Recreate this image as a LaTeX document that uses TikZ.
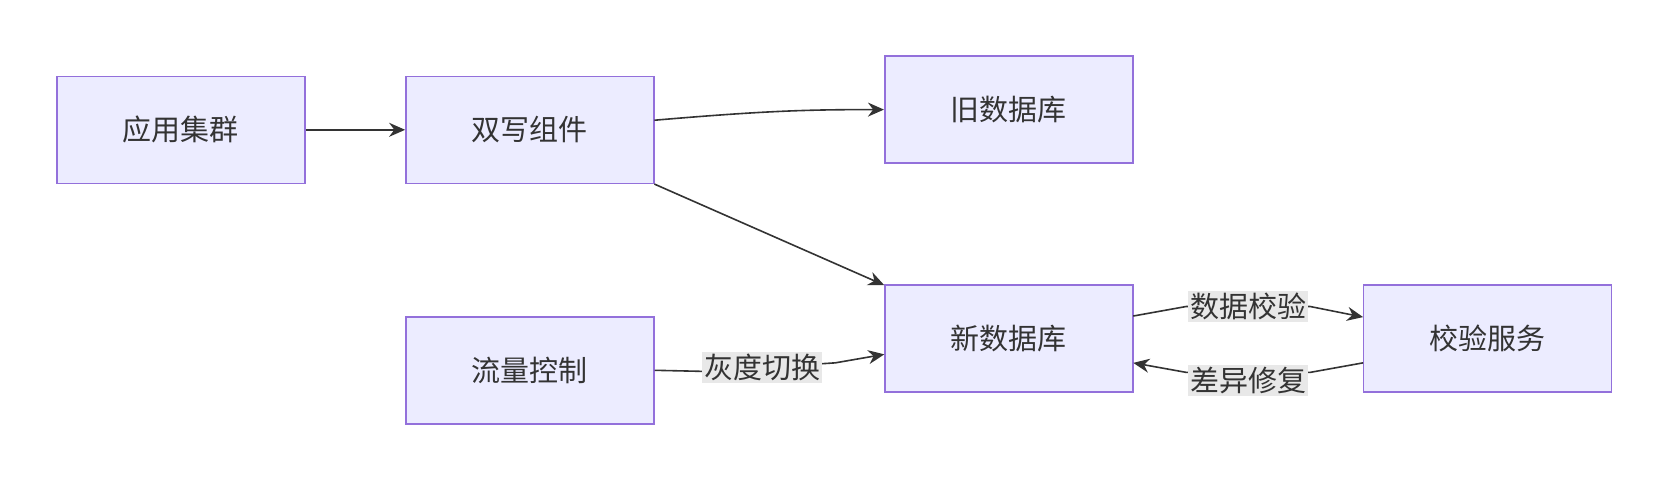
\documentclass[tikz,border=0pt]{standalone}
\usepackage{fontspec}
\setmainfont{Noto Sans CJK SC}
\usetikzlibrary{arrows.meta}
\definecolor{boxfill}{HTML}{ECECFF}
\definecolor{boxline}{HTML}{9370DB}
\definecolor{edgelab}{HTML}{E8E8E8}
\tikzset{
	block/.style={draw=boxline, fill=boxfill, line width=0.8pt, rectangle, minimum width=124pt, minimum height=53.5pt, font=\fontsize{14.5}{17}\selectfont, text=black!80},
	lab/.style={fill=edgelab, inner sep=1pt, font=\fontsize{14.5}{17}\selectfont, text=black!80},
}
\begin{document}
\begin{tikzpicture}[x=0.532pt, y=-0.532pt]
		\useasboundingbox (0,0) rectangle (1560,451);
		
		\node (app) [block] at (170,122) {应用集群};
		\node (dual) [block] at (498,122) {双写组件};
		\node (olddb) [block] at (948,103) {旧数据库};
		\node (newdb) [block] at (948,318) {新数据库};
		\node (flow) [block] at (498,348) {流量控制};
		\node (check) [block] at (1398,318) {校验服务};
		
		\coordinate (dualup) at (615,113);
		\coordinate (dualdown) at (615,173);
		\coordinate (newin) at (831,268);
		\coordinate (grayin) at (831,333);
		\coordinate (newout) at (1065,297);
		\coordinate (newback) at (1065,341);
		\coordinate (checkin) at (1281,298);
		\coordinate (checkout) at (1281,341);
		
		\begin{scope}[line width=0.8pt, black!80, -{Stealth[length=8pt,width=7pt]}]
			\draw (app) -- (dual);
			\draw (dualup) .. controls (720,104) and (760,103) .. (olddb.west);
			\draw (dualdown) -- (newin);
			\draw (flow.east) -- (660,349) -- (785,341) node [lab, pos=0.45] {灰度切换} -- (grayin);
			\draw (newout) -- (1115,288) -- (1231,288) node [lab, midway] {数据校验} -- (checkin);
			\draw (checkout) -- (1231,350) -- (1115,350) node [lab, midway, yshift=-4pt] {差异修复} -- (newback);
		\end{scope}
	\end{tikzpicture}
\end{document}
